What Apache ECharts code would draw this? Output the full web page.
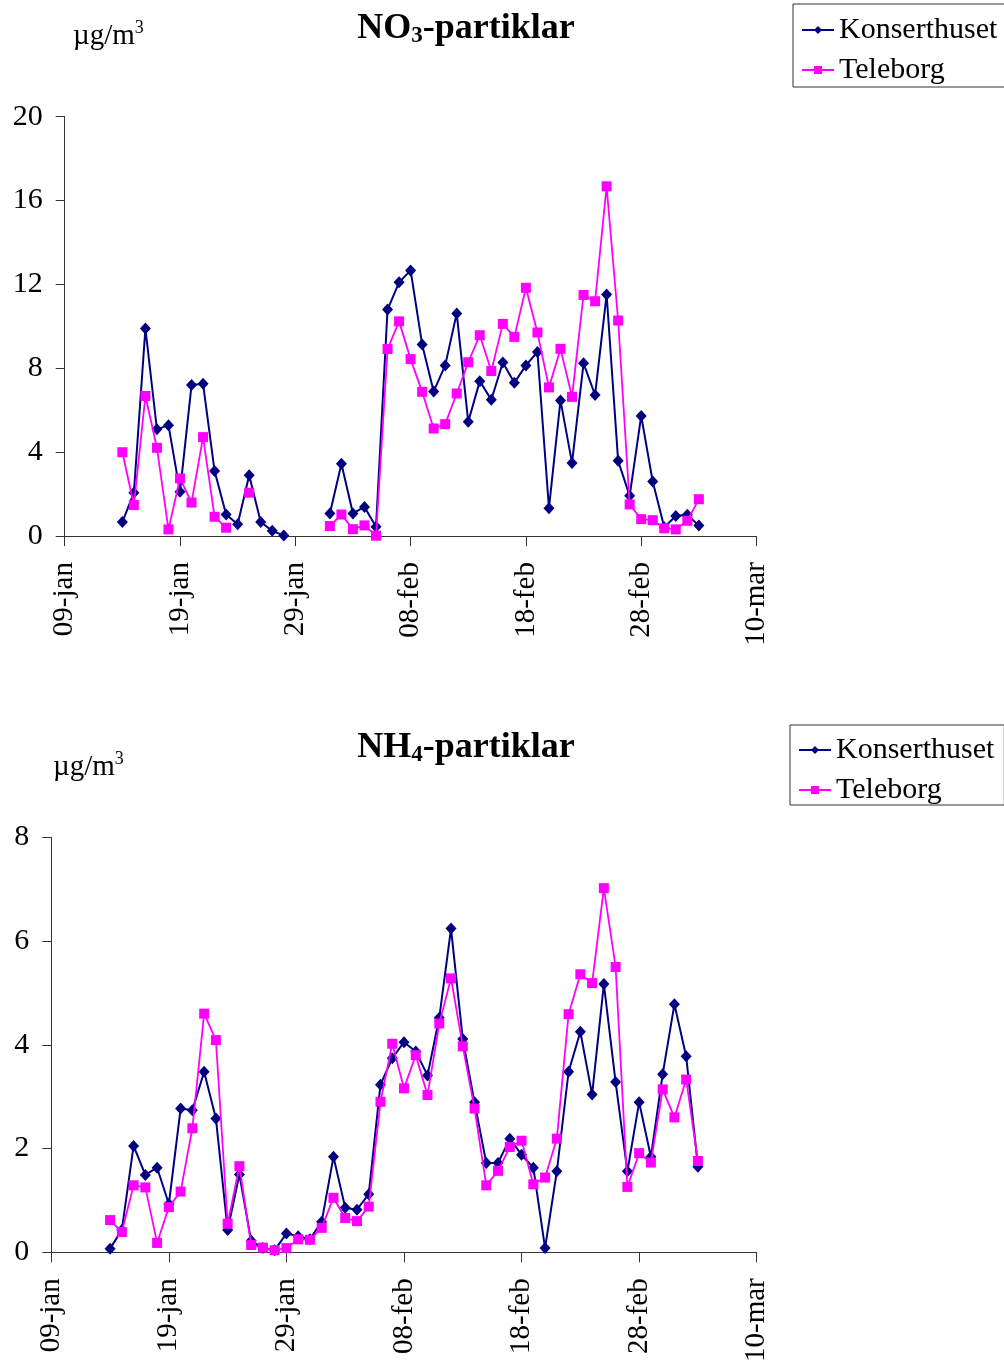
<!DOCTYPE html>
<html>
<head>
<meta charset="utf-8">
<title>NO3- och NH4-partiklar</title>
<script src="https://cdn.jsdelivr.net/npm/echarts@6/dist/echarts.min.js"></script>
<style>
  html, body { margin: 0; padding: 0; background: #fff; }
  #chart { width: 1004px; height: 1365px; }
</style>
</head>
<body>
<div id="chart"></div>
<script>
// Day axis: 0 = 09-jan, one unit per day, ticks every 10 days
const tickLabels = ['09-jan', '19-jan', '29-jan', '08-feb', '18-feb', '28-feb', '10-mar'];
// First sampled day (14-jan) as offset from 09-jan
const firstDay = 5;

const seriesNames = ['Konserthuset', 'Teleborg'];

// NO3-partiklar, µg/m3, daily from 14-jan to 05-mar (null = no sample)
const no3Konserthuset = [
  0.67, 2.07, 9.9, 5.09, 5.29, 2.11, 7.2, 7.26, 3.1, 1.03,
  0.57, 2.9, 0.67, 0.25, 0.03, null, null, null, 1.08, 3.45,
  1.08, 1.39, 0.44, 10.8, 12.1, 12.67, 9.14, 6.9, 8.14, 10.62,
  5.45, 7.39, 6.5, 8.28, 7.31, 8.14, 8.78, 1.33, 6.47, 3.49,
  8.24, 6.73, 11.52, 3.59, 1.92, 5.73, 2.6, 0.42, 0.96, 1.02,
  0.5
];
const no3Teleborg = [
  4.0, 1.48, 6.68, 4.21, 0.32, 2.75, 1.6, 4.72, 0.92, 0.4,
  null, 2.07, null, null, null, null, null, null, 0.48, 1.03,
  0.33, 0.51, 0.02, 8.92, 10.24, 8.44, 6.88, 5.13, 5.34, 6.8,
  8.29, 9.58, 7.87, 10.12, 9.5, 11.84, 9.71, 7.09, 8.93, 6.64,
  11.5, 11.2, 16.68, 10.28, 1.51, 0.81, 0.76, 0.37, 0.32, 0.73,
  1.76
];

// NH4-partiklar, µg/m3, daily from 14-jan to 05-mar
const nh4Konserthuset = [
  0.07, 0.43, 2.05, 1.49, 1.63, 0.93, 2.77, 2.74, 3.48, 2.58,
  0.43, 1.5, 0.22, 0.08, 0.04, 0.36, 0.31, 0.25, 0.59, 1.84,
  0.86, 0.82, 1.12, 3.23, 3.74, 4.05, 3.87, 3.41, 4.52, 6.24,
  4.11, 2.89, 1.72, 1.72, 2.19, 1.88, 1.63, 0.08, 1.56, 3.48,
  4.25, 3.04, 5.17, 3.28, 1.56, 2.89, 1.84, 3.43, 4.78, 3.78,
  1.65
];
const nh4Teleborg = [
  0.62, 0.39, 1.29, 1.25, 0.18, 0.87, 1.17, 2.39, 4.6, 4.09,
  0.55, 1.66, 0.14, 0.09, 0.04, 0.08, 0.25, 0.24, 0.47, 1.05,
  0.66, 0.6, 0.88, 2.9, 4.02, 3.16, 3.8, 3.03, 4.41, 5.28,
  3.97, 2.77, 1.29, 1.57, 2.03, 2.15, 1.31, 1.44, 2.19, 4.59,
  5.36, 5.19, 7.02, 5.5, 1.26, 1.91, 1.73, 3.14, 2.6, 3.33,
  1.76
];

const FONT = 'Liberation Serif';
const AXIS_COLOR = '#333';

function toPoints(values) {
  return values.map((v, i) => [firstDay + i, v]);
}

function xAxisFor(gridIndex) {
  return {
    gridIndex,
    type: 'value',
    min: 0,
    max: 60,
    interval: 10,
    axisLine: { show: true, onZero: false, lineStyle: { color: AXIS_COLOR, width: 1 } },
    axisTick: { show: true, inside: false, length: 10, lineStyle: { color: AXIS_COLOR } },
    splitLine: { show: false },
    axisLabel: {
      rotate: 90,
      margin: 26,
      fontSize: 29,
      fontFamily: FONT,
      color: '#000',
      formatter: v => tickLabels[Math.round(v / 10)]
    }
  };
}

function yAxisFor(gridIndex, max, interval) {
  return {
    gridIndex,
    type: 'value',
    min: 0,
    max,
    interval,
    axisLine: { show: true, lineStyle: { color: AXIS_COLOR, width: 1 } },
    axisTick: { show: true, inside: false, length: 9, lineStyle: { color: AXIS_COLOR } },
    splitLine: { show: false },
    axisLabel: { margin: 22, fontSize: 30, fontFamily: FONT, color: '#000' }
  };
}

function lineSeries(name, values, gridIndex) {
  const isK = name === 'Konserthuset';
  const color = isK ? '#000080' : '#FF00FF';
  return {
    name,
    type: 'line',
    xAxisIndex: gridIndex,
    yAxisIndex: gridIndex,
    data: toPoints(values),
    connectNulls: false,
    showSymbol: true,
    showAllSymbol: true,
    symbol: isK ? 'diamond' : 'rect',
    symbolSize: isK ? [11, 12] : 10,
    lineStyle: { color, width: isK ? 2 : 1.8 },
    itemStyle: { color, borderWidth: 0 },
    emphasis: { disabled: true },
    z: isK ? 2 : 3
  };
}

function legendAt(left, top, padding) {
  return {
    left,
    top,
    orient: 'vertical',
    padding,
    itemWidth: 32,
    itemHeight: 10,
    itemGap: 10,
    borderColor: AXIS_COLOR,
    borderWidth: 1,
    selectedMode: false,
    textStyle: { fontSize: 30, fontFamily: FONT, color: '#000', lineHeight: 30 },
    data: seriesNames
  };
}

const titleRich = {
  b: { fontSize: 36, fontWeight: 'bold', fontFamily: FONT, color: '#000', lineHeight: 38 },
  s: { fontSize: 23, fontWeight: 'bold', fontFamily: FONT, color: '#000', lineHeight: 14, verticalAlign: 'bottom' }
};
const unitRich = {
  u: { fontSize: 29, fontFamily: FONT, color: '#000', lineHeight: 34 },
  p: { fontSize: 18, fontFamily: FONT, color: '#000', lineHeight: 16, verticalAlign: 'top' }
};

function titleText(sub, cx, cy) {
  return {
    type: 'text',
    style: {
      text: '{b|' + sub[0] + '}{s|' + sub[1] + '}{b|-partiklar}',
      rich: titleRich,
      x: cx,
      y: cy,
      align: 'center',
      verticalAlign: 'middle'
    }
  };
}

function unitText(x, cy) {
  return {
    type: 'text',
    style: {
      text: '{u|µg/m}{p|3}',
      rich: unitRich,
      x,
      y: cy,
      align: 'left',
      verticalAlign: 'middle'
    }
  };
}

const option = {
  animation: false,
  backgroundColor: '#fff',
  textStyle: { fontFamily: FONT },
  grid: [
    { left: 64.7, right: 247.5, top: 116.7, height: 419.4 },
    { left: 51.3, right: 247.3, top: 837.3, height: 418 }
  ],
  xAxis: [xAxisFor(0), xAxisFor(1)],
  yAxis: [yAxisFor(0, 20, 4), yAxisFor(1, 8, 2)],
  legend: [
    legendAt(793, 4, [11, 16, 2, 8]),
    legendAt(790, 725, [10, 10, 0, 8])
  ],
  graphic: [
    titleText(['NO', '3'], 466, 29),
    titleText(['NH', '4'], 466, 748),
    unitText(73, 36),
    unitText(53, 767)
  ],
  series: [
    lineSeries('Konserthuset', no3Konserthuset, 0),
    lineSeries('Teleborg', no3Teleborg, 0),
    lineSeries('Konserthuset', nh4Konserthuset, 1),
    lineSeries('Teleborg', nh4Teleborg, 1)
  ]
};

const chart = echarts.init(document.getElementById('chart'), null, { renderer: 'canvas' });
chart.setOption(option);
</script>
</body>
</html>
